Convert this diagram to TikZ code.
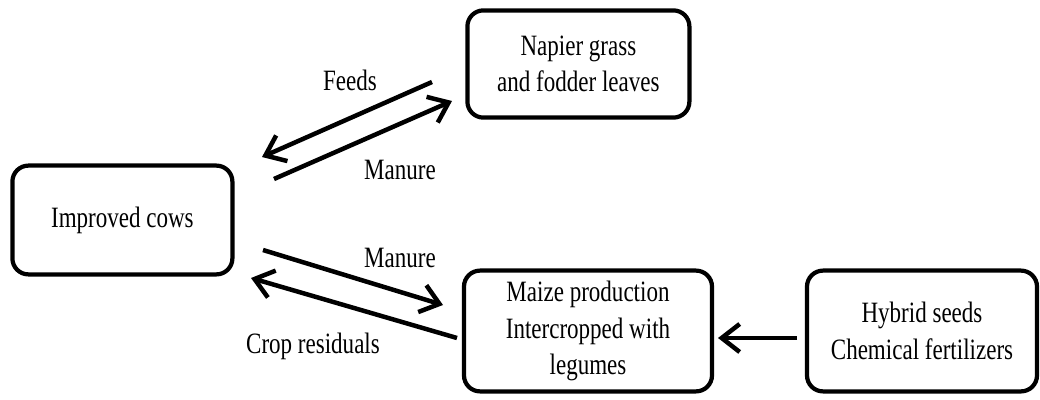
\documentclass[tikz,border=0pt]{standalone}
\usepackage{fontspec}
\setmainfont[FakeStretch=0.78]{Liberation Serif}
\usetikzlibrary{arrows.meta}
\tikzset{
	farmbox/.style={draw, line width=3pt, rounded corners=0.4cm, align=center, font=\fontsize{21}{26}\selectfont},
	flow/.style={line width=3.2pt, -{Straight Barb[length=0.45cm, width=0.7cm, line width=3.2pt]}},
	flowlabel/.style={font=\fontsize{21}{26}\selectfont}
}

\begin{document}
\begin{tikzpicture}
			%%%%% START %%%%%
			
			\useasboundingbox (0, 0) rectangle (26, 9.975);
			
			\node[farmbox, minimum width=5.5cm, minimum height=2.72cm] (cows) at (3.06, 4.475) {Improved cows};
			\node[farmbox, minimum width=5.55cm, minimum height=2.68cm] (napier) at (14.46, 8.375) {Napier grass\\and fodder leaves};
			\node[farmbox, minimum width=6.2cm, minimum height=3.02cm, text depth=0.15cm] (maize) at (14.7, 1.7) {Maize production\\Intercropped with\\legumes};
			\node[farmbox, minimum width=5.75cm, minimum height=3.02cm] (hybrid) at (23.05, 1.7) {Hybrid seeds\\Chemical fertilizers};
			
			\coordinate (feedA) at (10.8, 7.925);
			\coordinate (feedB) at (6.55, 6.05);
			\coordinate (manA) at (6.85, 5.5);
			\coordinate (manB) at (11.3, 7.45);
			\coordinate (dungA) at (6.575, 3.725);
			\coordinate (dungB) at (11.075, 2.35);
			\coordinate (cropA) at (11.425, 1.525);
			\coordinate (cropB) at (6.275, 3.025);
			\coordinate (seedA) at (19.925, 1.525);
			\coordinate (seedB) at (17.95, 1.525);
			
			\draw[flow] (feedA) -- (feedB);
			\draw[flow] (manA) -- (manB);
			\draw[flow] (dungA) -- (dungB);
			\draw[flow] (cropA) -- (cropB);
			\draw[flow] (seedA) -- (seedB);
			
			\node[flowlabel] (feeds) at (8.75, 7.975) {Feeds};
			\node[flowlabel] (manure1) at (10.0, 5.725) {Manure};
			\node[flowlabel] (manure2) at (10.0, 3.525) {Manure};
			\node[flowlabel] (residuals) at (7.825, 1.325) {Crop residuals};
			
			%%%%% END %%%%%
		\end{tikzpicture}
\end{document}
